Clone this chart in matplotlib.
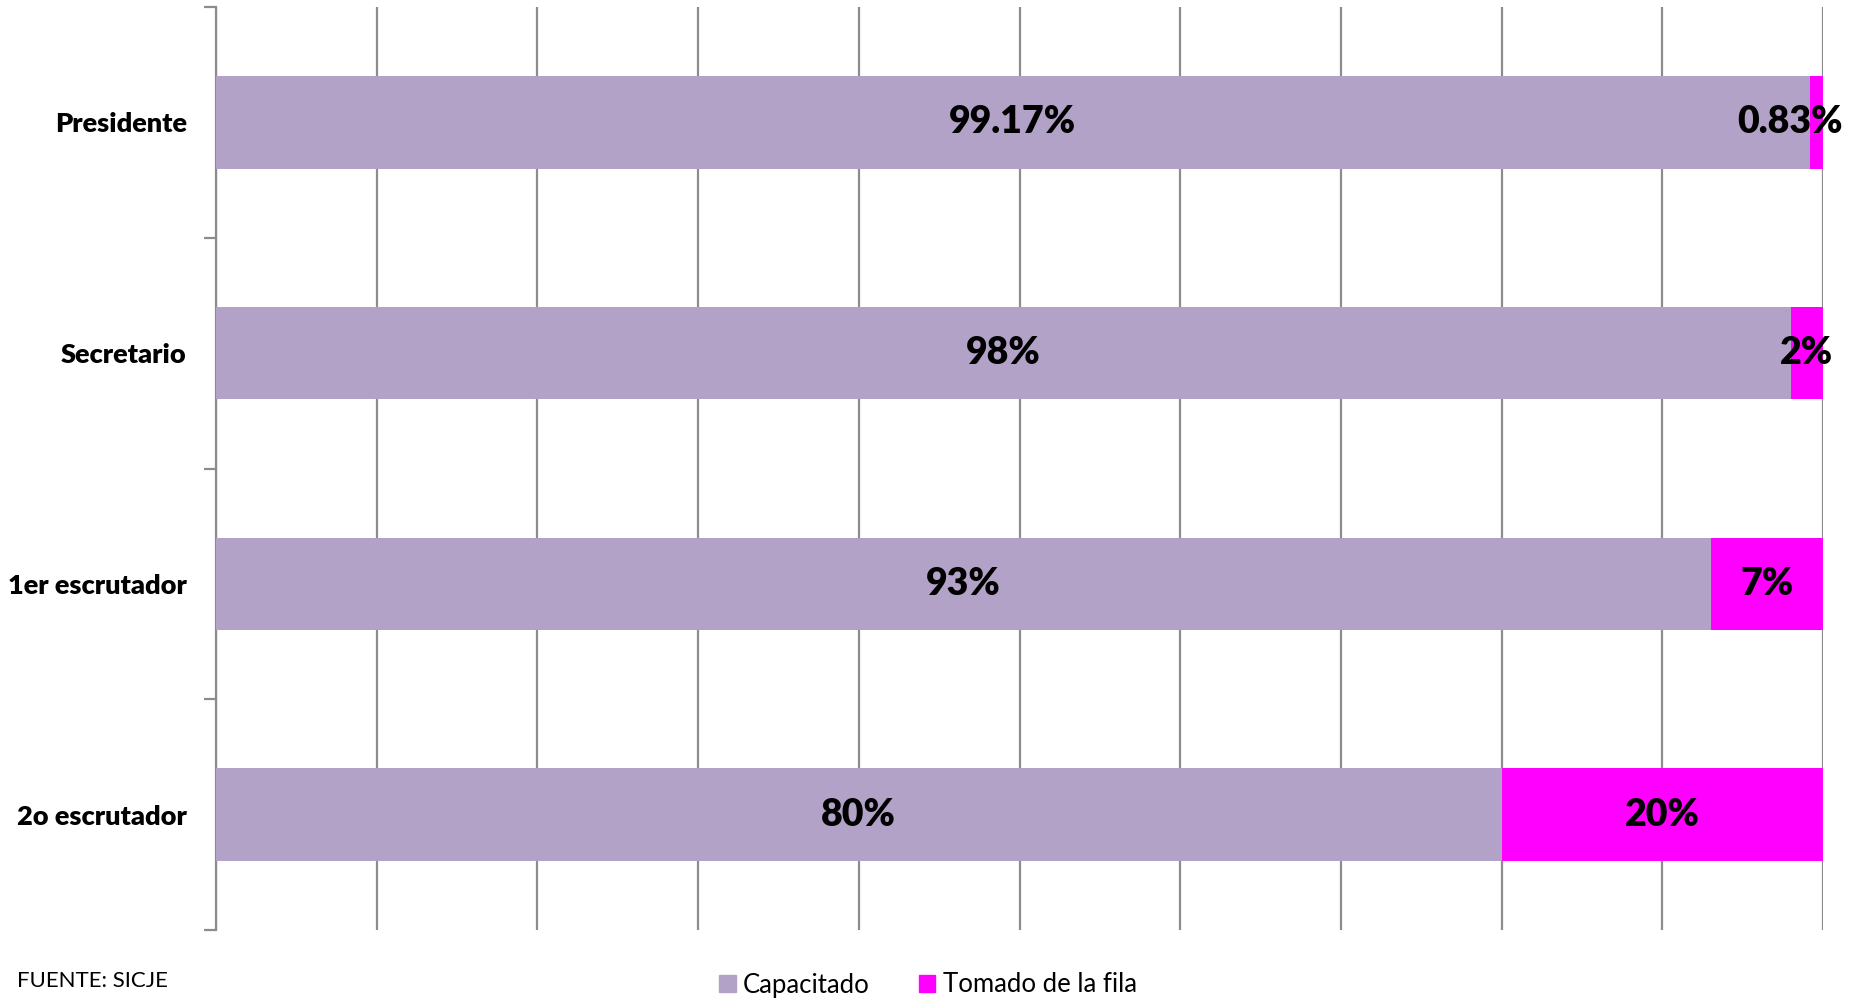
import matplotlib
matplotlib.use("Agg")
import matplotlib.pyplot as plt
import numpy as np

categories = ["Presidente", "Secretario", "1er escrutador", "2o escrutador"]
capacitado = [99.17, 98, 93, 80]
tomado = [0.83, 2, 7, 20]
cap_labels = ["99.17%", "98%", "93%", "80%"]
tom_labels = ["0.83%", "2%", "7%", "20%"]
series_names = ["Capacitado", "Tomado de la fila"]

COL_CAP = "#B3A2C7"
COL_TOM = "#FF00FF"
GRID = "#8C8C8C"

plt.rcParams["font.family"] = ["Lato", "DejaVu Sans"]

W, H = 1859, 1001
fig = plt.figure(figsize=(W / 100, H / 100), dpi=100)
ax = fig.add_axes([216 / W, (H - 930) / H, 1607 / W, 923 / H])

y = np.arange(len(categories))
ax.barh(y, capacitado, height=0.4, color=COL_CAP, zorder=3)
ax.barh(y, tomado, left=capacitado, height=0.4, color=COL_TOM, zorder=3)

ax.set_xlim(0, 100)
ax.set_ylim(len(categories) - 0.5, -0.5)

# vertical gridlines every 10%
ax.set_xticks(np.arange(0, 101, 10))
ax.tick_params(axis="x", length=0, labelbottom=False)
ax.grid(axis="x", color=GRID, linewidth=1.6, zorder=0)

for s in ["top", "right", "bottom"]:
    ax.spines[s].set_visible(False)
ax.spines["left"].set_color(GRID)
ax.spines["left"].set_linewidth(1.6)

ax.set_yticks(y)
ax.set_yticklabels(categories, fontsize=19.5, fontweight="heavy")
ax.tick_params(axis="y", length=0, pad=21)
ax.set_yticks(np.arange(-0.5, len(categories), 1.0), minor=True)
ax.tick_params(axis="y", which="minor", length=9, width=1.6, color=GRID)

fig.canvas.draw()
renderer = fig.canvas.get_renderer()

for i in range(len(categories)):
    ax.text(capacitado[i] / 2, y[i], cap_labels[i], ha="center", va="center",
            fontsize=27, fontweight="heavy", color="black", zorder=5)
    cx = capacitado[i] + tomado[i] / 2
    t = ax.text(cx, y[i], tom_labels[i], ha="center", va="center",
                fontsize=27, fontweight="heavy", color="black", zorder=5)
    bb = t.get_window_extent(renderer)
    limit = W - 16
    if bb.x1 > limit:
        shift = bb.x1 - limit
        px, py = ax.transData.transform((cx, y[i]))
        nx, _ = ax.transData.inverted().transform((px - shift, py))
        t.set_x(nx)

fig.text(17 / W, 1 - 987 / H, "FUENTE: SICJE", fontsize=16, ha="left",
         va="baseline")

handles = [plt.Rectangle((0, 0), 1, 1, color=COL_CAP),
           plt.Rectangle((0, 0), 1, 1, color=COL_TOM)]
fig.legend(handles, series_names, loc="center", bbox_to_anchor=(928 / W, 1 - 985 / H),
           ncol=2, frameon=False, fontsize=18.5, handlelength=0.65, handleheight=0.65,
           handletextpad=0.3, columnspacing=1.9)

fig.savefig("out.png", dpi=100, facecolor="white")
